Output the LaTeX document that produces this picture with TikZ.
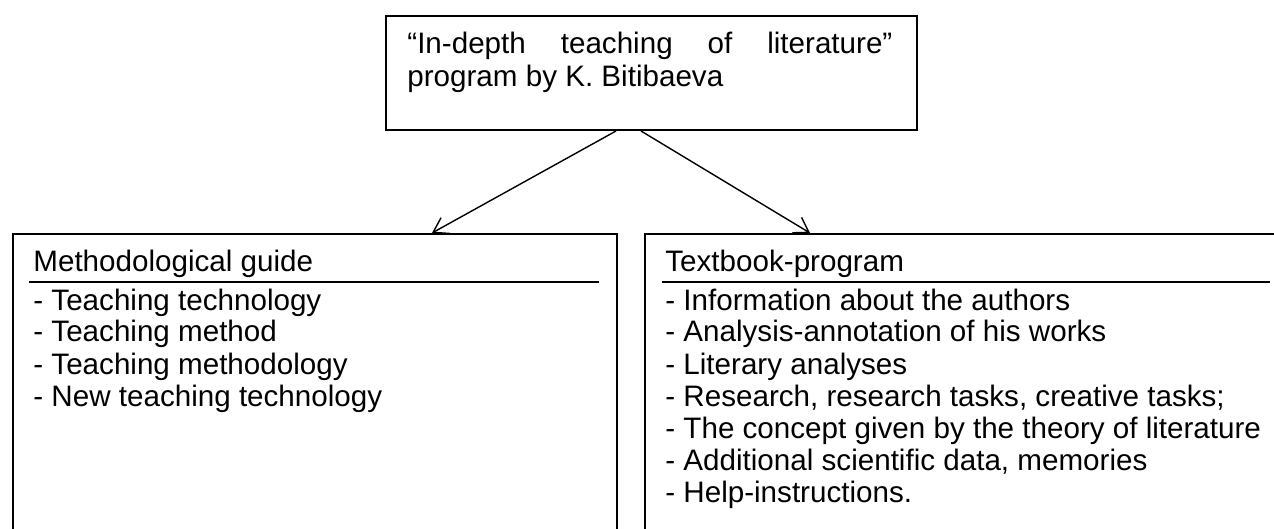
\documentclass[tikz,border=0pt]{standalone}
\usepackage{fontspec}
\setmainfont{Liberation Sans}
\usetikzlibrary{positioning,arrows.meta}

\tikzset{
  box/.style={draw,line width=1pt,rectangle,inner sep=0pt,anchor=north west},
  txt/.style={anchor=base west,inner sep=0pt,font=\fontsize{14.8}{16}\selectfont},
  link/.style={-{Straight Barb[length=7pt,width=9pt]},line width=0.7pt},
  rule/.style={line width=1pt}
}

\begin{document}
\begin{tikzpicture}[x=0.5pt,y=-0.5pt]
  \useasboundingbox (0,0) rectangle (1274,529);
  \clip (0,0) rectangle (1274,529);

  % program box
  \node[box,minimum width=265.5pt,minimum height=57pt] (prog) at (385,15) {};
  \node[txt,anchor=north west,text width=242.5pt,align=justify,
        font=\fontsize{14.8}{16.5}\selectfont] (progtext) at (407,32)
    {“In-depth teaching of literature”\linebreak program by K. Bitibaeva};

  % two boxes below
  \node[box,minimum width=302pt,minimum height=200pt] (guide) at (12,233) {};
  \node[box,minimum width=323pt,minimum height=200pt] (book) at (644,233) {};

  \node[txt] (guidehead) at (33,271) {Methodological guide};
  \node[txt] (bookhead) at (665,271) {Textbook-program};
  \draw[rule] (29,282) coordinate (ga) -- (599,282) coordinate (gb);
  \draw[rule] (662,282) coordinate (ba) -- (1270,282) coordinate (bb);

  \foreach \t [count=\i] in {Teaching technology,Teaching method,
      Teaching methodology,New teaching technology}
    \node[txt] (g\i) at (33,{310+32*(\i-1)}) {- \t};

  \foreach \t [count=\i] in {Information about the authors,
      Analysis-annotation of his works,Literary analyses,
      {Research, research tasks, creative tasks;},
      The concept given by the theory of literature,
      {Additional scientific data, memories},Help-instructions.}
    \node[txt] (b\i) at (665,{310+32*(\i-1)}) {- \t};

  % arrows
  \draw[link] ([xshift=-17.75pt]prog.south) -- ([xshift=210pt]guide.north west);
  \draw[link] ([xshift=-5.25pt]prog.south) -- ([xshift=83pt]book.north west);
\end{tikzpicture}
\end{document}
